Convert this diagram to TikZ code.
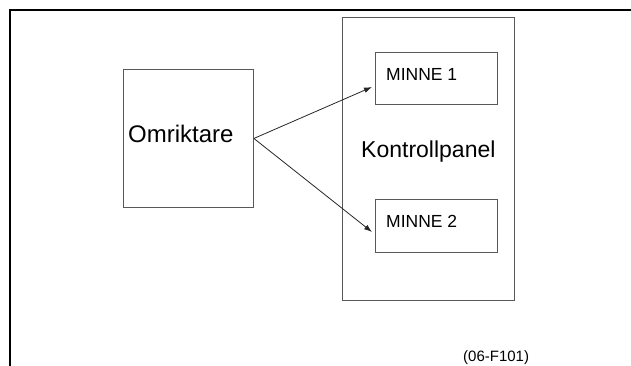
\documentclass[tikz,border=0pt]{standalone}
\usepackage{fontspec}
\setmainfont{Liberation Sans}
\usetikzlibrary{arrows.meta}
\begin{document}
\begin{tikzpicture}[x=1pt,y=-1pt,
  box/.style={draw=black!65,line width=0.9pt,inner sep=0pt,anchor=north west},
  frame/.style={draw=black,line width=2.2pt},
  link/.style={draw=black!85,line width=0.8pt,-{Latex[length=8pt,width=5.5pt]}},
  lbl/.style={inner sep=0pt,anchor=base west}]
\useasboundingbox (0,0) rectangle (631,365);
% outer frame, open towards right and bottom
\draw[frame] (10,370) -- (10,10) -- (640,10);
% blocks
\node[box,minimum width=130pt,minimum height=138pt] (omr) at (123,69) {};
\node[box,minimum width=172pt,minimum height=283pt] (kp) at (342,17) {};
\node[box,minimum width=122pt,minimum height=52pt] (m1) at (375,52) {};
\node[box,minimum width=122pt,minimum height=53pt] (m2) at (375,199) {};
% texts
\node[lbl,font=\fontsize{24}{27}\selectfont] (tomr) at (128,142) {Omriktare};
\node[lbl,font=\fontsize{23}{26}\selectfont] (tkp) at (361,157) {Kontrollpanel};
\node[lbl,font=\fontsize{17.5}{20}\selectfont] (tm1) at (386,80) {MINNE 1};
\node[lbl,font=\fontsize{17.5}{20}\selectfont] (tm2) at (386,227) {MINNE 2};
\node[lbl,font=\fontsize{15}{18}\selectfont] (ref) at (463,361) {(06-F101)};
% connectors
\coordinate (src) at (omr.east);
\draw[link] (src) -- ([xshift=-3pt]m1.west |- 0,87);
\draw[link] (src) -- ([xshift=-3pt]m2.west |- 0,232);
\end{tikzpicture}
\end{document}
